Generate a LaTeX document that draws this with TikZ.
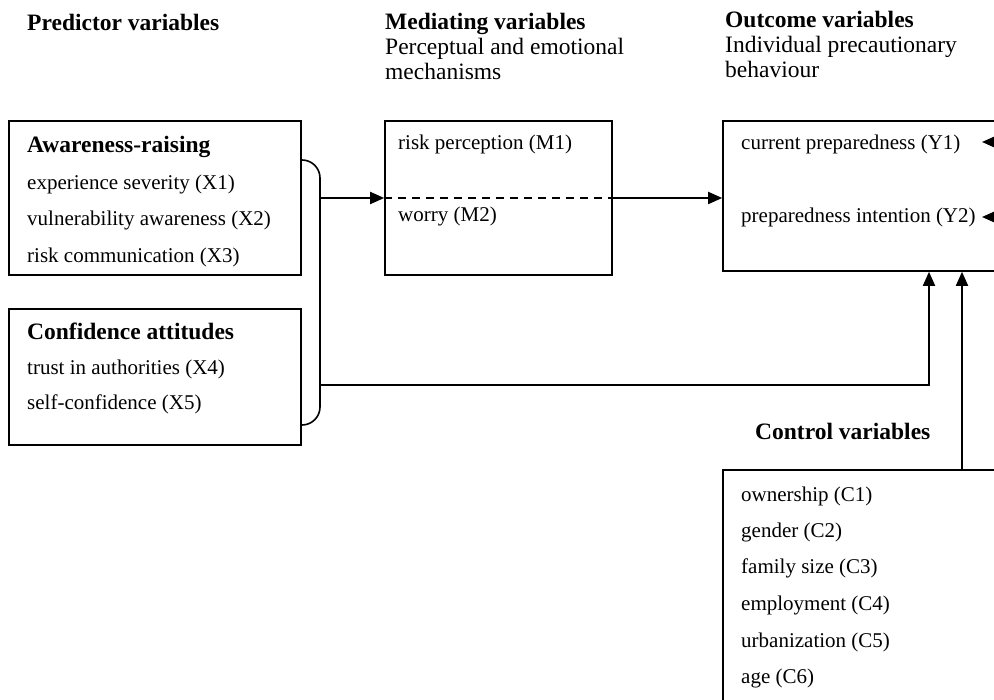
\documentclass[tikz,border=0pt]{standalone}
\usepackage{fontspec}
\setmainfont{Liberation Serif}
\usetikzlibrary{arrows.meta}
\begin{document}
\begin{tikzpicture}[
        x=1pt, y=-1pt,
        box/.style={rectangle, draw, line width=1.6pt, inner sep=0pt},
        head/.style={anchor=base west, inner sep=0pt, font=\fontsize{23.5}{28}\selectfont\bfseries},
        sub/.style={anchor=base west, inner sep=0pt, font=\fontsize{23.5}{28}\selectfont},
        item/.style={anchor=base west, inner sep=0pt, font=\fontsize{21}{25}\selectfont},
        arrow/.style={-{Triangle[length=14pt, width=12pt]}, line width=1.8pt},
        link/.style={line width=1.6pt}
    ]
    \clip (0,0) rectangle (994,700);

    % Column headings
    \node[head] (predhead) at (27,31) {Predictor variables};
    \node[head] (medhead) at (385,30) {Mediating variables};
    \node[sub] (medsub1) at (385,55) {Perceptual and emotional};
    \node[sub] (medsub2) at (385,80) {mechanisms};
    \node[head] (outhead) at (725,28) {Outcome variables};
    \node[sub] (outsub1) at (725,53) {Individual precautionary};
    \node[sub] (outsub2) at (725,78) {behaviour};

    % Boxes
    \node[box, minimum width=292, minimum height=154] (aware) at (155,198) {};
    \node[box, minimum width=292, minimum height=136] (conf) at (155,377) {};
    \node[box, minimum width=227, minimum height=154] (med) at (498.5,198) {};
    \node[box, minimum width=300, minimum height=150] (out) at (873,196) {};
    \node[box, minimum width=300, minimum height=260] (ctrl) at (873,600) {};

    % Predictor variables
    \node[head] (awaretitle) at (27,153) {Awareness-raising};
    \node[item] (x1) at (27,190) {experience severity (X1)};
    \node[item] (x2) at (27,226) {vulnerability awareness (X2)};
    \node[item] (x3) at (27,263) {risk communication (X3)};
    \node[head] (conftitle) at (27,340) {Confidence attitudes};
    \node[item] (x4) at (27,375) {trust in authorities (X4)};
    \node[item] (x5) at (27,410) {self-confidence (X5)};

    % Mediating variables
    \node[item] (m1) at (398,150) {risk perception (M1)};
    \node[item] (m2) at (398,222) {worry (M2)};
    \draw[link, dash pattern=on 8pt off 6pt] (med.west) -- (med.east);

    % Outcome variables
    \node[item] (y1) at (741,150) {current preparedness (Y1)};
    \node[item] (y2) at (741,223) {preparedness intention (Y2)};

    % Control variables
    \node[head] (ctrlhead) at (755,440) {Control variables};
    \node[item] (c1) at (741,502) {ownership (C1)};
    \node[item] (c2) at (741,537) {gender (C2)};
    \node[item] (c3) at (741,573) {family size (C3)};
    \node[item] (c4) at (741,610) {employment (C4)};
    \node[item] (c5) at (741,647) {urbanization (C5)};
    \node[item] (c6) at (741,683) {age (C6)};

    % Bracket round the predictors
    \coordinate (brtop) at (301,160);
    \coordinate (brbot) at (301,425);
    \coordinate (brmid) at (321,198);
    \coordinate (brlow) at (321,385);
    \draw[link, rounded corners=18pt] (brtop) -- (320,160) -- (320,425) -- (brbot);

    % Connections
    \draw[arrow] (brmid) -- (med.west);
    \draw[arrow] (med.east) -- (med.east -| out.west);
    \draw[arrow] (brlow) -| ([xshift=56pt]out.south);
    \draw[arrow] ([xshift=89pt]ctrl.north) -- ([xshift=89pt]out.south);

    % Arrows entering from the right
    \coordinate (y1src) at (1030,142);
    \coordinate (y1tip) at (982,142);
    \coordinate (y2src) at (1030,217);
    \coordinate (y2tip) at (982,217);
    \draw[arrow] (y1src) -- (y1tip);
    \draw[arrow] (y2src) -- (y2tip);

\end{tikzpicture}
\end{document}
